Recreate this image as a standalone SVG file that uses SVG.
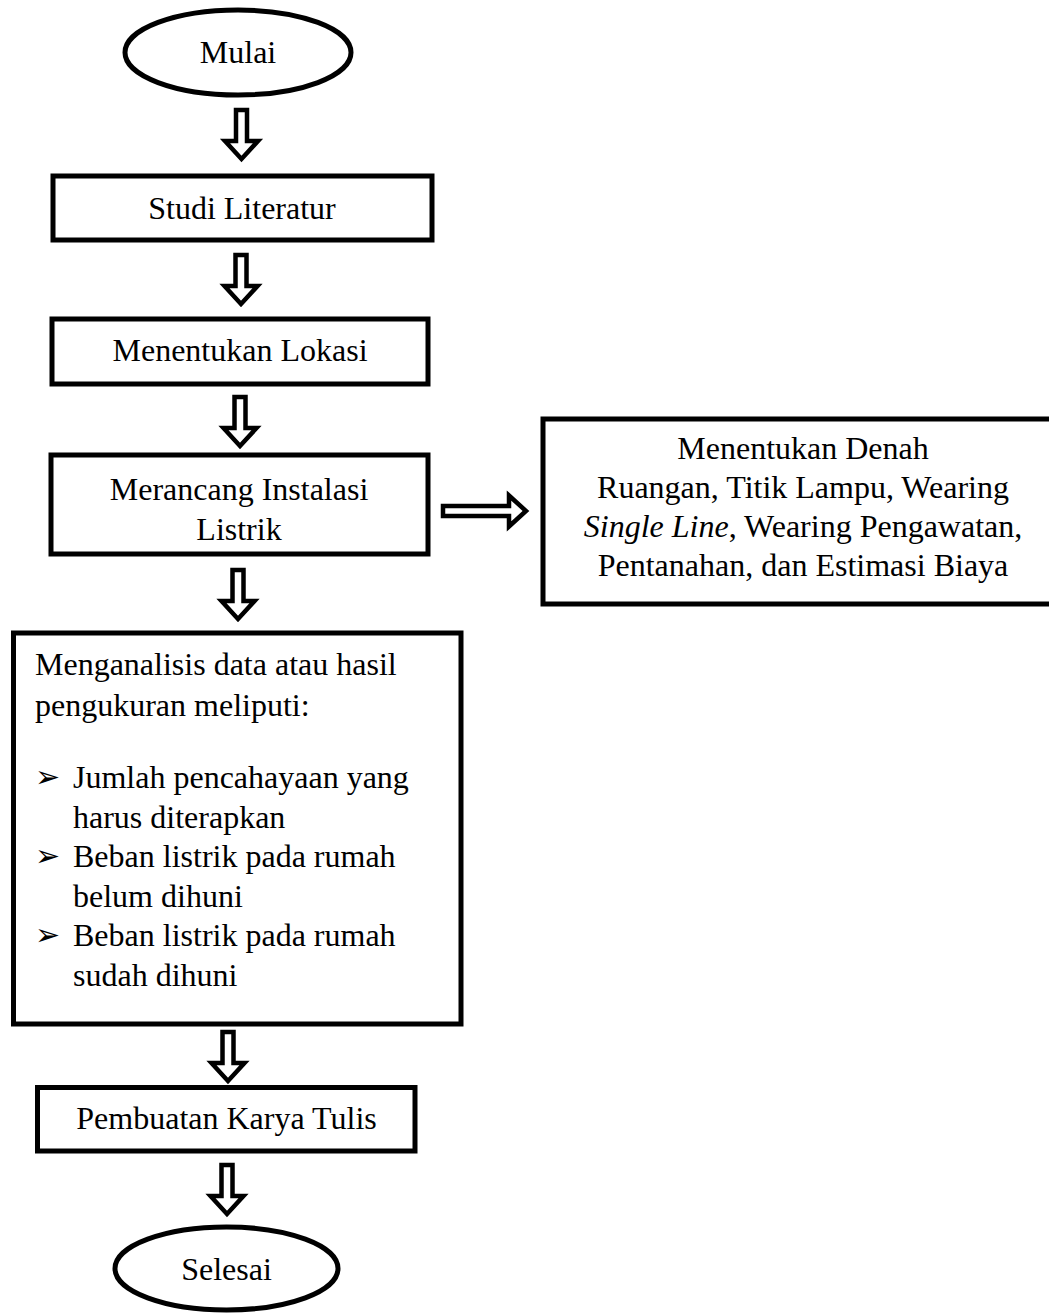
<svg xmlns="http://www.w3.org/2000/svg" xmlns:xlink="http://www.w3.org/1999/xlink" width="1049" height="1313" viewBox="0 0 1049 1313">
<style>
.box{fill:#fff;stroke:#000;stroke-width:5}
.arr{fill:#fff;stroke:#000;stroke-width:4.5;stroke-linejoin:miter}
.t{font-family:"Liberation Serif","Times New Roman",serif;font-size:32px;fill:#000}
.c{text-anchor:middle}
.b{font-family:"DejaVu Sans",sans-serif;font-size:30px;fill:#000}
</style>
<defs>
<path id="darrow" d="M-5.5,0 h11 v31 h11 L0,49 L-16.5,31 h11 z"/>
</defs>
<rect width="1049" height="1313" fill="#fff"/>
<g id="connectors">
<use xlink:href="#darrow" href="#darrow" class="arr" x="241.5" y="110"/>
<use xlink:href="#darrow" href="#darrow" class="arr" x="241" y="255"/>
<use xlink:href="#darrow" href="#darrow" class="arr" x="240" y="397"/>
<use xlink:href="#darrow" href="#darrow" class="arr" x="238" y="570"/>
<use xlink:href="#darrow" href="#darrow" class="arr" x="228" y="1032"/>
<use xlink:href="#darrow" href="#darrow" class="arr" x="227" y="1165"/>
<path class="arr" d="M443,506 h66 v-10.5 L526,511 L509,526.5 v-10.5 h-66 z"/>
</g>
<g id="mulai">
<ellipse class="box" cx="238" cy="52.5" rx="113" ry="42.5" stroke-width="4.5"/>
<text class="t c" x="238" y="63">Mulai</text>
</g>
<g id="studi">
<rect class="box" x="53" y="176" width="379" height="64"/>
<text class="t c" x="242" y="219">Studi Literatur</text>
</g>
<g id="lokasi">
<rect class="box" x="52" y="319" width="376" height="65"/>
<text class="t c" x="240" y="361">Menentukan Lokasi</text>
</g>
<g id="merancang">
<rect class="box" x="51" y="455" width="377" height="99"/>
<text class="t c" x="239" y="500">Merancang Instalasi</text>
<text class="t c" x="239" y="540">Listrik</text>
</g>
<g id="denah">
<rect class="box" x="543" y="419" width="530" height="185"/>
<text class="t c" x="803" y="459">Menentukan Denah</text>
<text class="t c" x="803" y="498">Ruangan, Titik Lampu, Wearing</text>
<text class="t c" x="803" y="537"><tspan font-style="italic">Single Line</tspan>, Wearing Pengawatan,</text>
<text class="t c" x="803" y="576">Pentanahan, dan Estimasi Biaya</text>
</g>
<g id="analisis">
<rect class="box" x="13.5" y="633" width="447.5" height="391"/>
<text class="t" x="35" y="675">Menganalisis data atau hasil</text>
<text class="t" x="35" y="716">pengukuran meliputi:</text>
<text class="b" x="35" y="787">➢</text>
<text class="t" x="73" y="788">Jumlah pencahayaan yang</text>
<text class="t" x="73" y="827.5">harus diterapkan</text>
<text class="b" x="35" y="866">➢</text>
<text class="t" x="73" y="867">Beban listrik pada rumah</text>
<text class="t" x="73" y="906.5">belum dihuni</text>
<text class="b" x="35" y="945">➢</text>
<text class="t" x="73" y="946">Beban listrik pada rumah</text>
<text class="t" x="73" y="985.5">sudah dihuni</text>
</g>
<g id="pembuatan">
<rect class="box" x="37.5" y="1087.5" width="377.5" height="63.5"/>
<text class="t c" x="226.5" y="1129">Pembuatan Karya Tulis</text>
</g>
<g id="selesai">
<ellipse class="box" cx="226.5" cy="1268.5" rx="111.5" ry="41.5" stroke-width="4.5"/>
<text class="t c" x="226.5" y="1280">Selesai</text>
</g>
</svg>
